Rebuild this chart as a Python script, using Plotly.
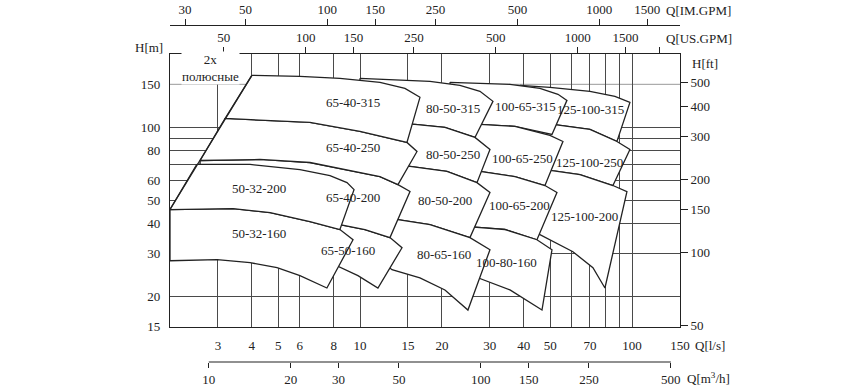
import numpy as np
import plotly.graph_objects as go

# ---------------- axis data ----------------
Q_MIN, Q_MAX = 2.0, 150.0      # l/s
H_MIN, H_MAX = 15.0, 200.0     # m

Q_TICKS = [3, 4, 5, 6, 8, 10, 15, 20, 30, 40, 50, 70, 100, 150]
Q_GRID_MINOR = [60, 80, 90]
H_TICKS = [15, 20, 30, 40, 50, 60, 80, 100, 150]
H_GRID = [20, 30, 40, 50, 60, 70, 80, 90, 100]
H_GRID_LIGHT = [150]
FT_TICKS = [50, 100, 150, 200, 300, 400, 500]
USGPM_TICKS = [50, 100, 150, 250, 500, 1000, 1500, 2000]
USGPM_LABELS = ["50", "100", "150", "250", "500", "1000", "1500", " "]
IMGPM_TICKS = [30, 50, 100, 150, 250, 500, 1000, 1500]
M3H_TICKS = [10, 20, 30, 50, 100, 150, 250, 500]

LPS_TO_USGPM = 15.8503
LPS_TO_IMGPM = 13.1981
LPS_TO_M3H = 3.6
M_TO_FT = 3.28084

# ---------------- pump regions (Q l/s, H m) ----------------
Q_65_40_315 = [4.00, 6.01, 8.43, 11.83, 14.62, 16.60, 14.87, 9.99, 6.54, 3.19]
H_65_40_315 = [163.4, 161.9, 158.8, 152.9, 144.4, 132.6, 86.4, 95.9, 104.5, 108.5]

Q_65_40_250 = [3.19, 6.54, 9.99, 14.87, 16.19, 13.78, 11.83, 7.75, 6.54, 4.28, 2.58]
H_65_40_250 = [108.5, 104.5, 95.9, 86.4, 79.3, 57.9, 62.5, 68.8, 71.4, 73.5, 72.8]

Q_50_32_200 = [2.51, 3.94, 6.01, 7.75, 8.95, 9.50, 8.43, 6.54, 4.67, 3.41, 2.00]
H_50_32_200 = [70.1, 70.1, 66.8, 63.1, 59.0, 55.2, 37.8, 40.7, 44.4, 46.1, 45.7]

Q_50_32_160 = [2.00, 3.41, 4.67, 6.54, 8.43, 9.42, 7.55, 6.01, 4.95, 3.94, 2.98, 2.00]
H_50_32_160 = [45.7, 46.1, 44.4, 40.7, 37.8, 34.3, 21.7, 24.4, 26.3, 27.6, 28.4, 28.1]

Q_65_40_200 = [2.58, 4.28, 6.54, 7.75, 11.83, 13.78, 15.26, 12.88, 10.42, 8.43, 3.94, 2.58]
H_65_40_200 = [72.8, 73.5, 71.4, 68.8, 62.5, 57.9, 54.2, 35.0, 37.8, 39.6, 55.2, 69.4]

Q_65_50_160 = [7.75, 8.43, 10.42, 12.88, 14.26, 11.63, 9.82, 8.22, 7.75]
H_65_50_160 = [40.0, 39.6, 37.8, 35.0, 31.8, 21.7, 24.4, 26.8, 31.2]

Q_80_50_315 = [9.99, 14.02, 18.07, 23.29, 27.59, 30.80, 26.45, 20.51, 15.91, 11.83, 9.99]
H_80_50_315 = [158.8, 155.8, 154.3, 148.6, 140.4, 127.6, 90.6, 99.6, 102.5, 103.5, 103.5]

Q_80_50_250 = [13.44, 15.91, 20.51, 26.45, 30.03, 26.90, 20.86, 15.26, 13.44]
H_80_50_250 = [103.5, 102.5, 99.6, 90.6, 80.8, 59.0, 65.6, 68.8, 69.4]

Q_80_50_200 = [12.35, 15.26, 20.86, 26.90, 30.03, 25.35, 18.07, 13.67, 12.35]
H_80_50_200 = [69.4, 68.8, 65.6, 59.0, 53.7, 35.0, 39.6, 41.5, 42.3]

Q_80_65_160 = [12.35, 13.67, 18.07, 25.35, 30.03, 24.92, 20.51, 16.60, 13.10, 11.83]
H_80_65_160 = [42.3, 41.5, 39.6, 35.0, 31.2, 17.6, 21.3, 23.9, 25.8, 28.4]

Q_100_65_315 = [21.40, 27.59, 35.57, 45.85, 53.41, 57.62, 50.76, 37.10, 27.59, 21.40]
H_100_65_315 = [152.9, 151.4, 150.0, 144.4, 136.4, 128.8, 93.2, 100.6, 102.5, 102.5]

Q_100_65_250 = [21.40, 27.59, 37.10, 49.91, 55.70, 47.84, 37.10, 27.59, 23.29]
H_100_65_250 = [102.5, 102.5, 100.6, 92.3, 87.2, 57.4, 62.5, 65.6, 66.2]

Q_100_65_200 = [23.29, 27.59, 37.10, 47.84, 52.95, 44.70, 34.09, 25.35, 22.33]
H_100_65_200 = [66.2, 65.6, 62.5, 57.4, 53.7, 34.3, 37.8, 38.8, 39.2]

Q_100_80_160 = [22.33, 25.35, 34.09, 44.70, 50.76, 46.65, 35.57, 25.35, 22.33]
H_100_80_160 = [39.2, 38.8, 37.8, 34.3, 31.2, 17.6, 21.3, 24.6, 25.8]

Q_125_100_315 = [38.70, 49.91, 70.01, 86.51, 98.22, 87.99, 70.01, 51.19, 38.70]
H_125_100_315 = [148.6, 145.8, 140.4, 133.8, 126.4, 87.2, 97.8, 102.5, 103.5]

Q_125_100_250 = [38.70, 51.19, 70.01, 87.99, 98.22, 85.06, 64.33, 47.84, 40.38]
H_125_100_250 = [103.5, 102.5, 97.8, 87.2, 80.8, 57.4, 63.7, 66.8, 67.5]

Q_125_100_200 = [40.38, 47.84, 64.33, 85.06, 95.76, 79.49, 71.81, 60.62, 45.85, 38.70]
H_125_100_200 = [67.5, 66.8, 63.7, 57.4, 54.2, 21.7, 26.3, 30.6, 36.0, 37.0]

# 2-pole envelope (left boundary)
ENV_Q = [2.00, 4.00]
ENV_H = [45.7, 163.4]

# region labels
LABEL_TEXT = ["65-40-315", "65-40-250", "50-32-200", "65-40-200", "50-32-160", "65-50-160",
              "80-50-315", "80-50-250", "80-50-200", "80-65-160",
              "100-65-315", "100-65-250", "100-65-200", "100-80-160",
              "125-100-315", "125-100-250", "125-100-200"]
LABEL_Q = [9.42, 9.42, 4.25, 9.42, 4.25, 9.03,
           21.96, 21.96, 20.51, 20.34,
           40.7, 39.7, 38.7, 34.4,
           70.6, 70.0, 67.1]
LABEL_H = [126.4, 82.4, 55.8, 51.2, 36.3, 30.9,
           119.4, 77.1, 49.8, 29.8,
           121.7, 74.2, 47.4, 27.6,
           118.3, 71.4, 42.7]

# draw order: right columns first so left regions overlap them
REGIONS = [
    (Q_125_100_315, H_125_100_315), (Q_125_100_250, H_125_100_250), (Q_125_100_200, H_125_100_200),
    (Q_100_65_315, H_100_65_315), (Q_100_65_250, H_100_65_250), (Q_100_65_200, H_100_65_200),
    (Q_100_80_160, H_100_80_160),
    (Q_80_50_315, H_80_50_315), (Q_80_50_250, H_80_50_250), (Q_80_50_200, H_80_50_200),
    (Q_80_65_160, H_80_65_160),
    (Q_65_50_160, H_65_50_160), (Q_65_40_200, H_65_40_200),
    (Q_65_40_250, H_65_40_250), (Q_65_40_315, H_65_40_315),
    (Q_50_32_160, H_50_32_160), (Q_50_32_200, H_50_32_200),
]

FONT = "Liberation Serif, Times New Roman, serif"
INK = "#222222"
GRID = "#4a4a4a"

fig = go.Figure()

for qs, hs in REGIONS:
    fig.add_trace(go.Scatter(
        x=list(qs) + [qs[0]], y=list(hs) + [hs[0]],
        mode="lines", fill="toself", fillcolor="white",
        line=dict(color=INK, width=1.3), hoverinfo="skip", showlegend=False))

fig.add_trace(go.Scatter(x=ENV_Q, y=ENV_H, mode="lines",
                         line=dict(color=INK, width=1.3), hoverinfo="skip", showlegend=False))

# invisible traces to activate secondary axes
fig.add_trace(go.Scatter(x=[USGPM_TICKS[0]], y=[H_TICKS[1]], xaxis="x2", yaxis="y",
                         mode="markers", marker=dict(opacity=0), hoverinfo="skip", showlegend=False))
fig.add_trace(go.Scatter(x=[IMGPM_TICKS[0]], y=[H_TICKS[1]], xaxis="x3", yaxis="y",
                         mode="markers", marker=dict(opacity=0), hoverinfo="skip", showlegend=False))
fig.add_trace(go.Scatter(x=[M3H_TICKS[0]], y=[H_TICKS[1]], xaxis="x4", yaxis="y",
                         mode="markers", marker=dict(opacity=0), hoverinfo="skip", showlegend=False))
fig.add_trace(go.Scatter(x=[Q_TICKS[0]], y=[FT_TICKS[1]], xaxis="x", yaxis="y2",
                         mode="markers", marker=dict(opacity=0), hoverinfo="skip", showlegend=False))

lg = np.log10
Y_DOM = [0.1039, 0.9139]
tickfont = dict(family=FONT, size=13, color=INK)

fig.update_layout(
    width=868, height=388,
    margin=dict(l=170, r=188, t=25, b=26, autoexpand=False),
    paper_bgcolor="white", plot_bgcolor="white",
    showlegend=False,
    xaxis=dict(type="log", range=[lg(Q_MIN), lg(Q_MAX * 1.0005)], domain=[0, 1],
               tickmode="array", tickvals=Q_TICKS, ticktext=[str(v) for v in Q_TICKS],
               showgrid=True, gridcolor=GRID, gridwidth=1,
               minor=dict(tickmode="array", tickvals=Q_GRID_MINOR, showgrid=True,
                          gridcolor=GRID, gridwidth=1, ticks=""),
               ticks="", showline=True, linecolor=INK, linewidth=1.2, mirror=True,
               tickfont=tickfont, ticklabelstandoff=6, zeroline=False, anchor="y",
               automargin=False),
    yaxis=dict(type="log", range=[lg(H_MIN * 0.999), lg(H_MAX)], domain=Y_DOM,
               tickmode="array", tickvals=H_TICKS, ticktext=[str(v) for v in H_TICKS],
               showgrid=False,
               minor=dict(tickmode="array", tickvals=H_GRID, showgrid=True,
                          gridcolor=GRID, gridwidth=1, ticks=""),
               ticks="", showline=True, linecolor=INK, linewidth=1.2, mirror=True,
               tickfont=tickfont, ticklabelstandoff=6, zeroline=False, anchor="x",
               automargin=False),
    yaxis2=dict(type="log", overlaying="y", side="right", anchor="x",
                range=[lg(H_MIN * 0.999 * M_TO_FT), lg(H_MAX * M_TO_FT)],
                tickmode="array", tickvals=FT_TICKS, ticktext=[str(v) for v in FT_TICKS],
                ticks="outside", ticklen=7, tickcolor=INK, showgrid=False, showline=False,
                tickfont=tickfont, zeroline=False, automargin=False),
    xaxis2=dict(type="log", overlaying="x", side="top", anchor="y",
                range=[lg(Q_MIN * LPS_TO_USGPM), lg(Q_MAX * 1.0005 * LPS_TO_USGPM)],
                tickmode="array", tickvals=USGPM_TICKS, ticktext=USGPM_LABELS,
                ticks="outside", ticklen=6, tickcolor=INK, showgrid=False, showline=True,
                linecolor=INK, linewidth=1.2, tickfont=tickfont, zeroline=False,
                automargin=False),
    xaxis3=dict(type="log", overlaying="x", side="top", anchor="free", position=1.0,
                range=[lg(Q_MIN * LPS_TO_IMGPM), lg(Q_MAX * 1.0005 * LPS_TO_IMGPM)],
                tickmode="array", tickvals=IMGPM_TICKS, ticktext=[str(v) for v in IMGPM_TICKS],
                ticks="outside", ticklen=6, tickcolor=INK, showgrid=False, showline=True,
                linecolor=INK, linewidth=1.2, tickfont=tickfont, zeroline=False,
                automargin=False),
    xaxis4=dict(type="log", overlaying="x", side="bottom", anchor="free", position=0.0,
                range=[lg(Q_MIN * LPS_TO_M3H), lg(Q_MAX * 1.0005 * LPS_TO_M3H)],
                tickmode="array", tickvals=M3H_TICKS, ticktext=[str(v) for v in M3H_TICKS],
                ticks="outside", ticklen=5, tickcolor=INK, showgrid=False, showline=False,
                tickfont=tickfont, zeroline=False, automargin=False),
)

# light 150 m grid line
for h in H_GRID_LIGHT:
    fig.add_shape(type="line", xref="x domain", yref="y", x0=0, x1=1, y0=h, y1=h,
                  line=dict(color="#9a9a9a", width=1), layer="below")

# m3/h axis line between first and last tick
fig.add_shape(type="line", xref="x4", yref="paper", x0=M3H_TICKS[0], x1=M3H_TICKS[-1],
              y0=0, y1=0, line=dict(color=INK, width=1.2))

# region labels
for t, q, h in zip(LABEL_TEXT, LABEL_Q, LABEL_H):
    fig.add_annotation(x=lg(q), y=lg(h), xref="x", yref="y", text=t, showarrow=False,
                       font=dict(family=FONT, size=13, color=INK))

fig.add_annotation(x=lg(2.81), y=lg(175), xref="x", yref="y", text="2x<br>полюсные",
                   showarrow=False, bgcolor="white", borderpad=0,
                   font=dict(family=FONT, size=13, color=INK))

# axis titles
title_font = dict(family=FONT, size=13, color=INK)
fig.add_annotation(x=0.9686, y=1.0445, xref="paper", yref="paper", text="Q[IM.GPM]",
                   xanchor="left", yanchor="middle", showarrow=False, font=title_font)
fig.add_annotation(x=0.9686, y=0.9614, xref="paper", yref="paper", text="Q[US.GPM]",
                   xanchor="left", yanchor="middle", showarrow=False, font=title_font)
fig.add_annotation(x=-0.0098, y=0.9347, xref="paper", yref="paper", text="H[m]",
                   xanchor="right", yanchor="middle", showarrow=False, font=title_font)
fig.add_annotation(x=1.0196, y=0.887, xref="paper", yref="paper", text="H[ft]",
                   xanchor="left", yanchor="middle", showarrow=False, font=title_font)
fig.add_annotation(x=1.0255, y=0.0504, xref="paper", yref="paper", text="Q[l/s]",
                   xanchor="left", yanchor="middle", showarrow=False, font=title_font)
fig.add_annotation(x=1.0098, y=-0.0475, xref="paper", yref="paper", text="Q[m<sup>3</sup>/h]",
                   xanchor="left", yanchor="middle", showarrow=False, font=title_font)

fig.write_html("out.html")
